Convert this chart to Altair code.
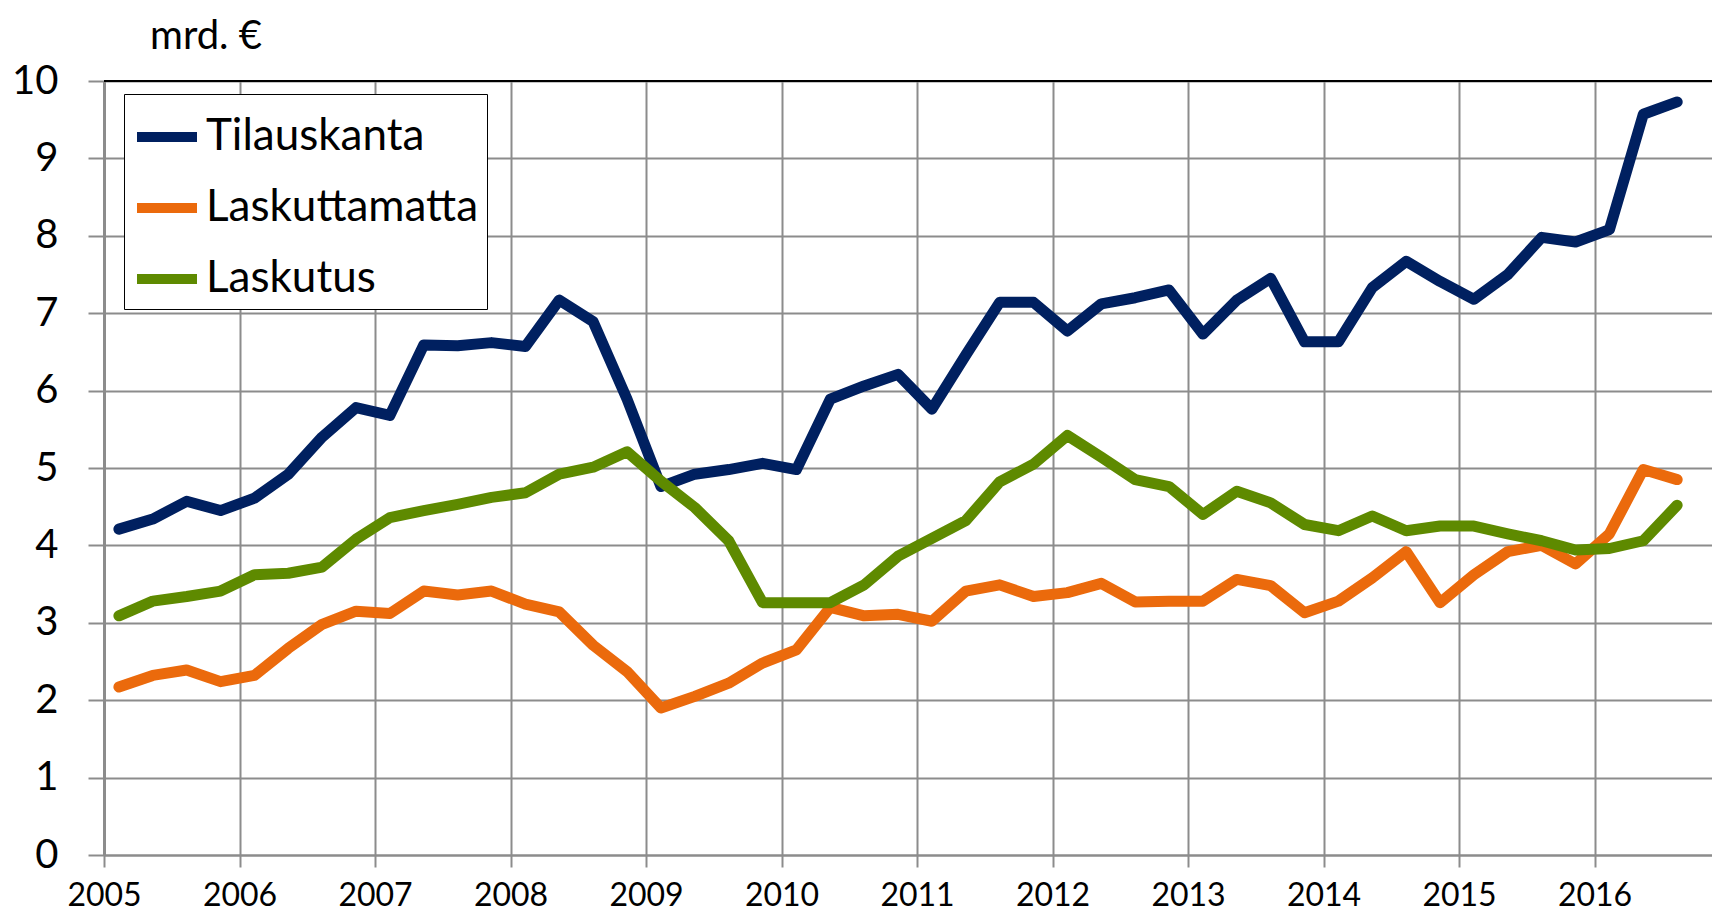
import altair as alt
import pandas as pd

quarters = [f"{y}Q{q}" for y in range(2005, 2017) for q in range(1, 5)][:47]

tilauskanta = [4.21, 4.34, 4.57, 4.45, 4.61, 4.92, 5.40, 5.78, 5.68, 6.59, 6.58, 6.62,
               6.57, 7.17, 6.89, 5.89, 4.76, 4.92, 4.98, 5.06, 4.98, 5.89, 6.06, 6.21,
               5.76, 6.46, 7.14, 7.14, 6.77, 7.12, 7.20, 7.30, 6.73, 7.17, 7.45, 6.63,
               6.63, 7.33, 7.67, 7.41, 7.18, 7.50, 7.98, 7.92, 8.08, 9.57, 9.73]
laskuttamatta = [2.17, 2.32, 2.39, 2.24, 2.32, 2.67, 2.98, 3.15, 3.12, 3.41, 3.36, 3.41,
                 3.24, 3.14, 2.71, 2.37, 1.90, 2.05, 2.22, 2.48, 2.65, 3.20, 3.09, 3.11,
                 3.02, 3.41, 3.49, 3.34, 3.39, 3.51, 3.27, 3.28, 3.28, 3.56, 3.48, 3.13,
                 3.28, 3.58, 3.92, 3.26, 3.62, 3.92, 4.00, 3.76, 4.15, 4.98, 4.85]
laskutus = [3.09, 3.28, 3.34, 3.41, 3.62, 3.64, 3.72, 4.08, 4.36, 4.45, 4.53, 4.62,
            4.68, 4.92, 5.01, 5.21, 4.83, 4.49, 4.06, 3.26, 3.26, 3.26, 3.49, 3.86,
            4.09, 4.32, 4.82, 5.05, 5.42, 5.14, 4.85, 4.76, 4.40, 4.70, 4.55, 4.27,
            4.19, 4.38, 4.19, 4.25, 4.25, 4.15, 4.06, 3.94, 3.96, 4.06, 4.52]

series_names = ["Tilauskanta", "Laskuttamatta", "Laskutus"]
series_colors = ["#002060", "#EB6A0C", "#5E8A00"]
year_ticks = list(range(2005, 2017))
y_ticks = list(range(0, 11))
unit_label = "mrd. €"

rows = []
for name, vals in zip(series_names, [tilauskanta, laskuttamatta, laskutus]):
    for i, (q, v) in enumerate(zip(quarters, vals)):
        xpos = int(q[:4]) + (int(q[-1]) - 1) * 0.25 + 0.11
        rows.append({"series": name, "quarter": q, "x": xpos, "value": v, "idx": i})
df = pd.DataFrame(rows)

FONT = "Lato"
GRID = "#8c8c8c"

x_enc = alt.X("x:Q",
              scale=alt.Scale(domain=[2005, 2016.867], nice=False, zero=False),
              axis=alt.Axis(values=year_ticks, format="d", title=None, grid=True,
                            tickSize=12, labelPadding=13, labelFontSize=32,
                            labelFlush=False, labelOverlap=False, domainWidth=2))
y_enc = alt.Y("value:Q",
              scale=alt.Scale(domain=[0, 10], nice=False),
              axis=alt.Axis(values=y_ticks, format="d", title=None, grid=True, tickSize=16,
                            labelPadding=30, labelFontSize=40, domainWidth=3))
color_enc = alt.Color("series:N",
                      scale=alt.Scale(domain=series_names, range=series_colors),
                      legend=alt.Legend(orient="none", legendX=20, legendY=13, title=None,
                                        symbolType="stroke", symbolSize=3600,
                                        symbolStrokeWidth=10, labelFontSize=44,
                                        labelFont=FONT, labelColor="black",
                                        strokeColor="black", fillColor="white",
                                        padding=8, rowPadding=14, labelOffset=4,
                                        labelLimit=0, direction="vertical"))

top_rule = alt.Chart(pd.DataFrame({"v": [10]})).mark_rule(
    color="black", strokeWidth=2).encode(y=alt.Y("v:Q", scale=alt.Scale(domain=[0, 10], nice=False)))

layers = []
for name in series_names:
    layers.append(
        alt.Chart(df).transform_filter(alt.datum.series == name).mark_line(
            strokeWidth=11, strokeCap="round", strokeJoin="round"
        ).encode(x=x_enc, y=y_enc, color=color_enc, order="idx:Q")
    )

unit = alt.Chart(pd.DataFrame({"t": [unit_label]})).mark_text(
    font=FONT, fontSize=40, align="left", baseline="alphabetic", color="black"
).encode(x=alt.value(46), y=alt.value(-32), text="t:N")

chart = alt.layer(top_rule, *layers, unit).properties(
    width=1608, height=774,
    autosize=alt.AutoSizeParams(type="none"),
    padding={"left": 96, "top": 73, "right": 0, "bottom": 57},
).configure_view(stroke=None).configure_axis(
    labelFont=FONT, labelColor="black", gridColor=GRID, gridWidth=2,
    tickColor=GRID, tickWidth=2, domainColor=GRID
)

chart.save("out.html", embed_options={"renderer": "svg", "actions": False})
